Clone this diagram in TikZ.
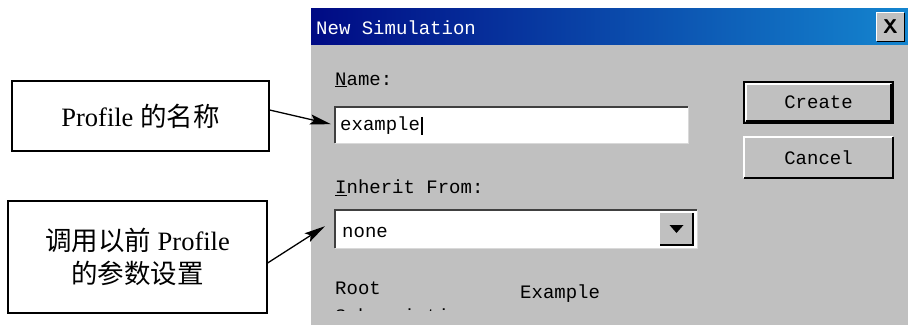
\documentclass[tikz,border=0pt]{standalone}
\usepackage{fontspec}
\setmainfont{Liberation Serif}
\newfontfamily\cjk{Noto Sans CJK SC}
\newfontfamily\dlgfont{Liberation Mono}
\usetikzlibrary{arrows.meta,positioning}

\definecolor{wingray}{HTML}{C0C0C0}
\definecolor{windark}{HTML}{808080}
\definecolor{titleleft}{HTML}{000A84}
\definecolor{titleright}{HTML}{1485CF}

\tikzset{
    callout/.style={draw, line width=1.2pt, fill=white, align=center, inner sep=0pt,
        font=\fontsize{26.5}{35}\selectfont},
    dlgtext/.style={font=\dlgfont\fontsize{19}{22}\selectfont, inner sep=0pt},
    pointer/.style={-{Stealth[length=21pt,width=10pt,inset=4pt]}, line width=1.3pt},
    field/.style={fill=white, inner sep=0pt, anchor=north west},
    btn/.style={fill=wingray, inner sep=0pt, dlgtext, minimum width=149pt, minimum height=41pt}
}

\begin{document}
\begin{tikzpicture}[x=1pt, y=-1pt]
    \useasboundingbox[fill=white] (0,0) rectangle (908,326);

    % dialog window
    \fill[wingray] (311,45) rectangle (908,325);
    \shade[left color=titleleft, right color=titleright] (311,9) rectangle (908,45);
    \node[dlgtext, white, anchor=west] (title) at (316,28) {New Simulation};
    \node[fill=wingray, minimum width=27pt, minimum height=28pt, inner sep=0pt,
        font=\sffamily\bfseries\fontsize{20}{20}\selectfont] (closebtn) at (890.5,27) {X};
    \draw[white, line width=1pt] (closebtn.south west) -- (closebtn.north west) -- (closebtn.north east);
    \draw[black, line width=1.2pt] (closebtn.north east) -- (closebtn.south east) -- (closebtn.south west);

    % name field
    \node[dlgtext, anchor=west] (namelbl) at (335,80) {\underline{N}ame:};
    \node[field, minimum width=353pt, minimum height=36pt] (namefield) at (335,107) {};
    \draw[black!75, line width=2pt] (namefield.south west) -- (namefield.north west) -- (namefield.north east);
    \draw[white!85!black, line width=1.2pt] (namefield.north east) -- (namefield.south east) -- (namefield.south west);
    \node[dlgtext, anchor=west] (nameval) at (340,126) {example};
    \draw[black, line width=1.5pt] ([xshift=2pt]nameval.north east) -- ([xshift=2pt]nameval.south east);

    % inherit field
    \node[dlgtext, anchor=west] (inheritlbl) at (335,188) {\underline{I}nherit From:};
    \node[field, minimum width=362pt, minimum height=38pt] (inherit) at (335,210) {};
    \draw[black!75, line width=2pt] (inherit.south west) -- (inherit.north west) -- (inherit.north east);
    \draw[white!85!black, line width=1.2pt] (inherit.north east) -- (inherit.south east) -- (inherit.south west);
    \node[dlgtext, anchor=west] (inheritval) at (342,232) {none};
    \node[fill=wingray, minimum width=33pt, minimum height=32pt, inner sep=0pt] (dropbtn) at (676.5,229) {};
    \draw[white, line width=1pt] (dropbtn.south west) -- (dropbtn.north west) -- (dropbtn.north east);
    \draw[black, line width=1.5pt] (dropbtn.north east) -- (dropbtn.south east) -- (dropbtn.south west);
    \fill[black] ([xshift=-7pt,yshift=4pt]dropbtn.center) -- ([xshift=7pt,yshift=4pt]dropbtn.center)
        -- ([yshift=-4pt]dropbtn.center) -- cycle;

    % buttons
    \node[btn] (create) at (818.5,102.5) {Create};
    \draw[white, line width=1.5pt] ([shift={(2pt,2pt)}]create.south west) -- ([shift={(2pt,-2pt)}]create.north west)
        -- ([shift={(-2pt,-2pt)}]create.north east);
    \draw[black, line width=2pt] (create.south west) rectangle (create.north east);
    \draw[black, line width=1.5pt] ([shift={(-2pt,-2pt)}]create.north east) -- ([shift={(-2pt,2pt)}]create.south east)
        -- ([shift={(2pt,2pt)}]create.south west);
    \node[btn] (cancel) at (818.5,157.5) {Cancel};
    \draw[white, line width=1.5pt] (cancel.south west) -- (cancel.north west) -- (cancel.north east);
    \draw[black, line width=1.5pt] (cancel.north east) -- (cancel.south east) -- (cancel.south west);

    % bottom rows, cut off by the panel
    \node[dlgtext, anchor=west] (rootlbl) at (335,288) {Root};
    \node[dlgtext, anchor=west] (rootval) at (520,294) {Example};
    \begin{scope}
        \clip (311,300) rectangle (700,310);
        \node[dlgtext, anchor=west] (sublbl) at (335,318) {Subscription:};
    \end{scope}

    % callouts
    \node[callout, minimum width=257pt, minimum height=70pt] (profname) at (140.5,116)
        {Profile {\cjk 的名称}};
    \node[callout, minimum width=259pt, minimum height=112pt] (profparam) at (137.5,257)
        {{\cjk 调用以前} Profile\\[-2pt]{\cjk 的参数设置}};

    \draw[pointer] ([yshift=6pt]profname.east) -- ([xshift=-4pt,yshift=1pt]namefield.west);
    \draw[pointer] ([yshift=-6pt]profparam.east) -- ([xshift=-10pt,yshift=3pt]inherit.west);
\end{tikzpicture}
\end{document}
